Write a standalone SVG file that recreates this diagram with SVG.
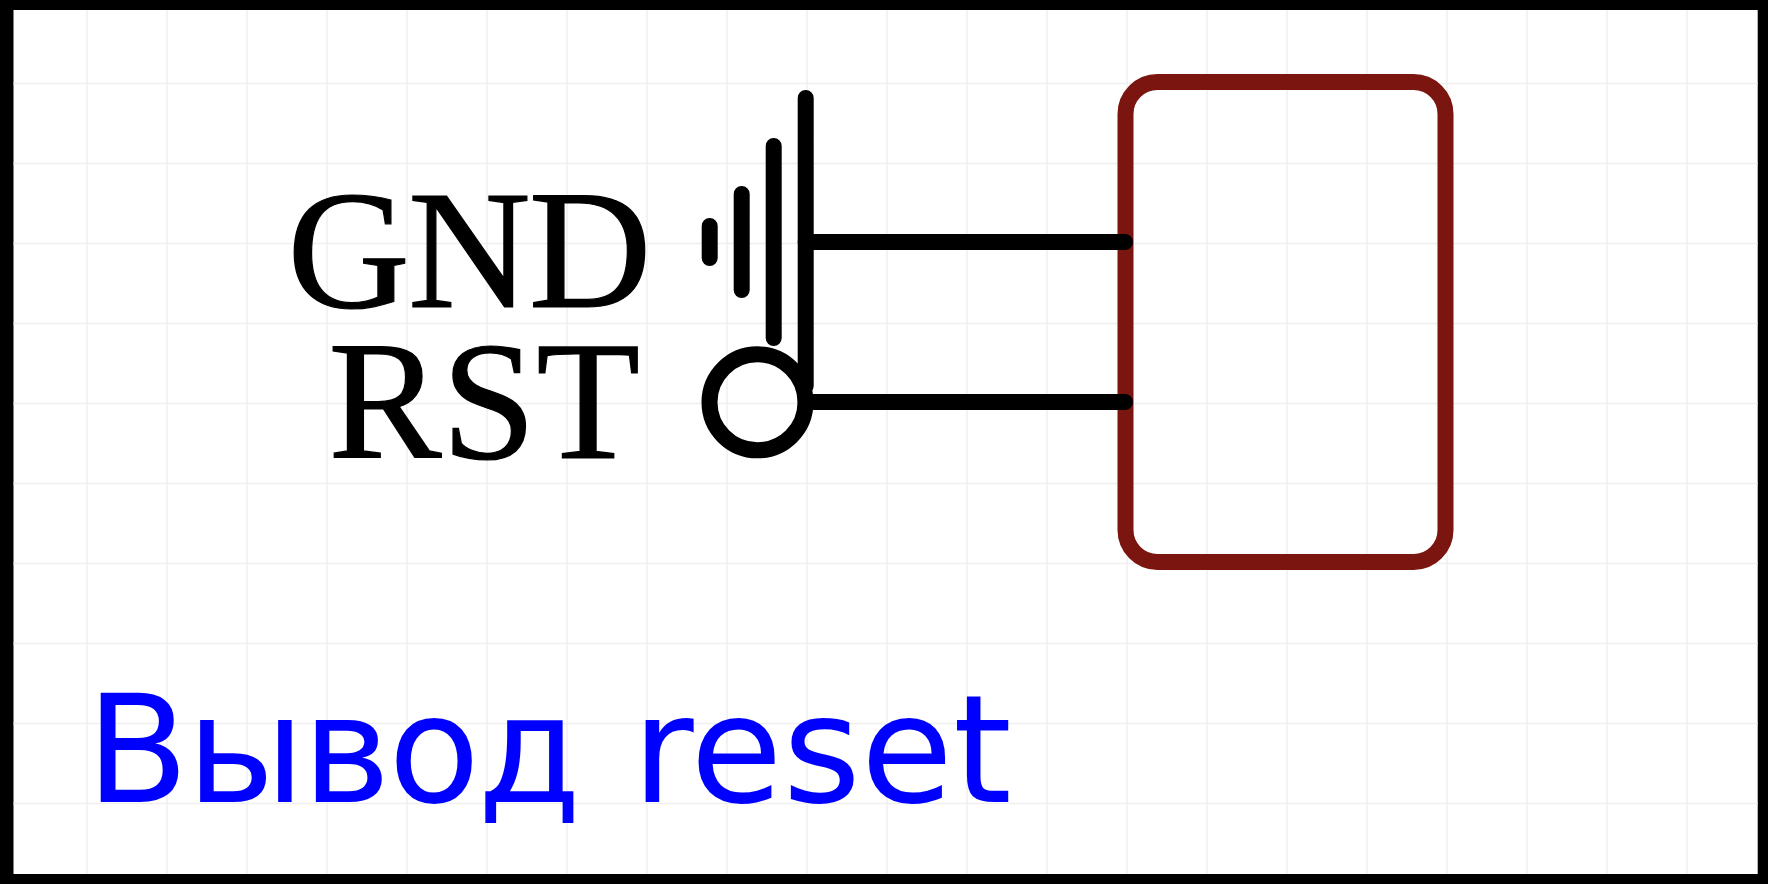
<svg xmlns="http://www.w3.org/2000/svg" width="1768" height="884" viewBox="0 0 1768 884">
<style>
.grid{stroke:#efefef;stroke-width:1.5;fill:none}
.w{stroke:#000;stroke-width:16;stroke-linecap:round;fill:none}
.pin{font-family:"Liberation Serif","Times New Roman",serif;font-size:170px;fill:#000;stroke:#000;stroke-width:1.2;text-anchor:end}
</style>
<rect width="1768" height="884" fill="#000"/>
<rect x="13.5" y="10" width="1744.2" height="864" fill="#fff"/>
<g id="grid" class="grid">
<path d="M87 10V874M167 10V874M247 10V874M327 10V874M407 10V874M487 10V874M567 10V874M647 10V874M727 10V874M807 10V874M887 10V874M967 10V874M1047 10V874M1127 10V874M1207 10V874M1287 10V874M1367 10V874M1447 10V874M1527 10V874M1607 10V874M1687 10V874"/>
<path d="M13.5 83.5H1757.7M13.5 163.5H1757.7M13.5 243.5H1757.7M13.5 323.5H1757.7M13.5 403.5H1757.7M13.5 483.5H1757.7M13.5 563.5H1757.7M13.5 643.5H1757.7M13.5 723.5H1757.7M13.5 803.5H1757.7"/>
</g>
<g id="body"><rect x="1125.5" y="82" width="320" height="480" rx="32" ry="32" fill="none" stroke="#7a1510" stroke-width="16"/></g>
<g id="connectors">
<path class="w" d="M805.7 242H966M966 242H1125"/>
<path class="w" d="M805.7 402H966M966 402H1125"/>
</g>
<g id="gnd-symbol">
<path class="w" d="M709.7 226V258M741.7 194V290M773.7 146V338M805.7 98V386"/>
</g>
<g id="rst-symbol"><circle cx="757.5" cy="402.3" r="48" fill="none" stroke="#000" stroke-width="16"/></g>
<g id="labels">
<text class="pin" x="649.5" y="307" letter-spacing="-2">GND</text>
<text class="pin" x="640" y="457.5">RST</text>
</g>
<g id="title"><text y="802" font-family="'DejaVu Sans',sans-serif" font-size="150" fill="#0000ff"><tspan x="86" letter-spacing="-2.5">Вывод </tspan><tspan x="632">reset</tspan></text></g>
</svg>
